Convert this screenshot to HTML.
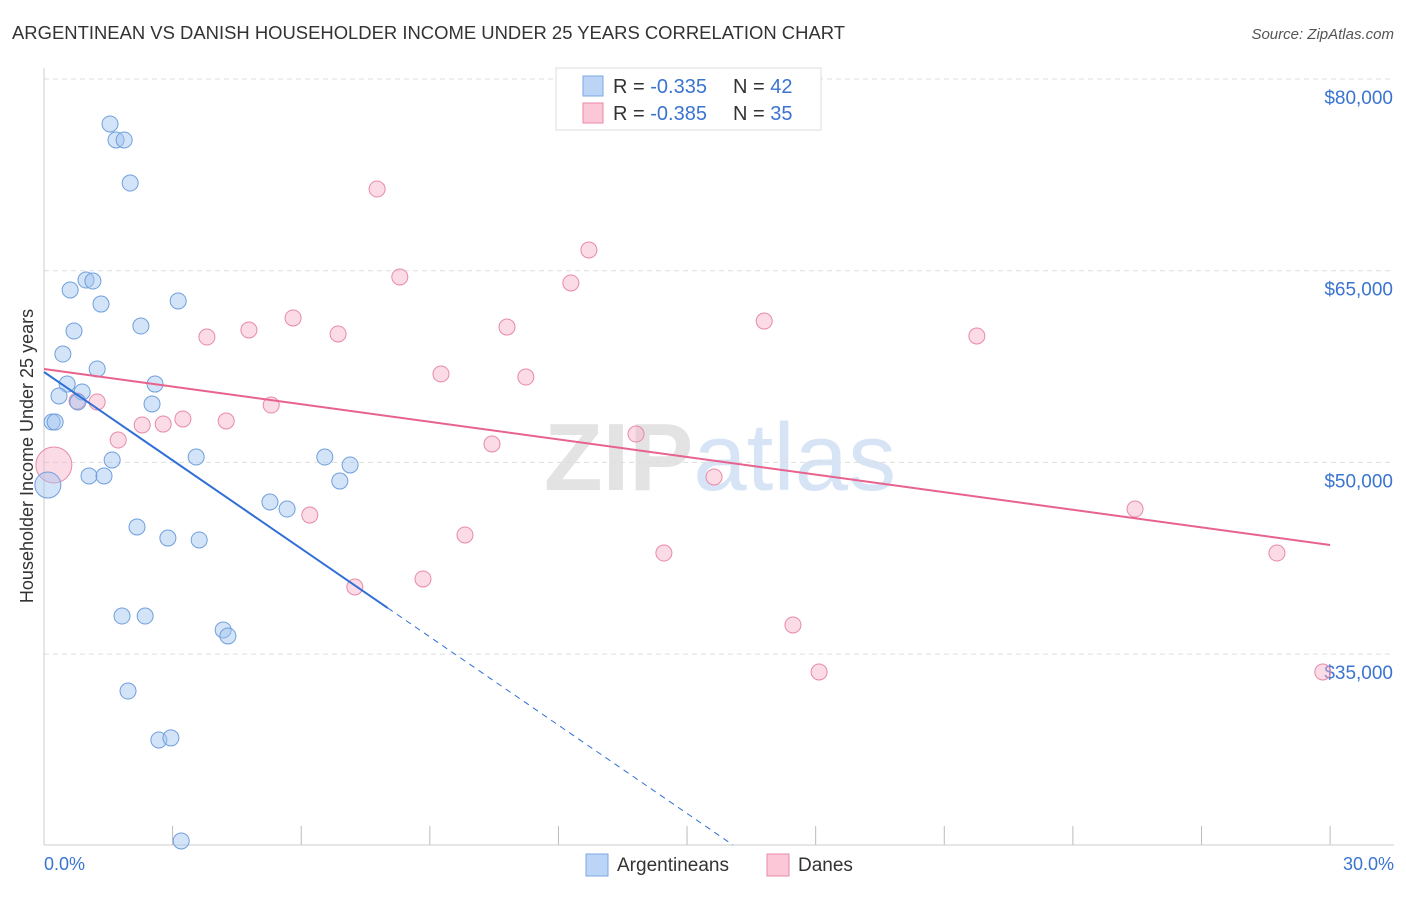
<!DOCTYPE html>
<html><head><meta charset="utf-8"><style>
body{margin:0;background:#fff;font-family:"Liberation Sans",sans-serif;}
svg text{font-family:"Liberation Sans",sans-serif;}
</style></head><body>
<svg id="chart" width="1406" height="892" xmlns="http://www.w3.org/2000/svg">
<text x="12" y="39" font-size="18" fill="#333" textLength="833" lengthAdjust="spacingAndGlyphs">ARGENTINEAN VS DANISH HOUSEHOLDER INCOME UNDER 25 YEARS CORRELATION CHART</text>
<text x="1394" y="39" font-size="15" fill="#555" text-anchor="end" font-style="italic">Source: ZipAtlas.com</text>
<text x="720" y="490" font-size="96" fill="#e3e3e3" text-anchor="middle" font-weight="bold">ZIP<tspan fill="#d6e4f5" font-weight="normal">atlas</tspan></text>
<g id="grid"></g>
<line x1="44" y1="68" x2="44" y2="845" stroke="#ccc"/>
<line x1="44" y1="845" x2="1394" y2="845" stroke="#ccc"/>
<text transform="translate(33,456) rotate(-90)" font-size="18" fill="#333" text-anchor="middle">Householder Income Under 25 years</text>
<text x="44" y="870" font-size="18" fill="#3a74d0">0.0%</text>
<text x="1394" y="870" font-size="18" fill="#3a74d0" text-anchor="end">30.0%</text>
<g id="points"></g>
<g id="lines"></g>
<g>
<rect x="556" y="68" width="265" height="62" fill="#fff" stroke="#ddd"/>
<rect x="583" y="76" width="20" height="20" fill="#bcd5f7" stroke="#7aa8e0"/>
<text x="613" y="93" font-size="20" fill="#333">R = <tspan fill="#3a74d0">-0.335</tspan></text>
<text x="733" y="93" font-size="20" fill="#333">N = <tspan fill="#3a74d0">42</tspan></text>
<rect x="583" y="103" width="20" height="20" fill="#fcc8d8" stroke="#e88aa8"/>
<text x="613" y="120" font-size="20" fill="#333">R = <tspan fill="#3a74d0">-0.385</tspan></text>
<text x="733" y="120" font-size="20" fill="#333">N = <tspan fill="#3a74d0">35</tspan></text>
</g>
<g>
<rect x="586" y="854" width="22" height="22" fill="#bcd5f7" stroke="#7aa8e0"/>
<text x="617" y="871" font-size="19" fill="#333">Argentineans</text>
<rect x="767" y="854" width="22" height="22" fill="#fcc8d8" stroke="#e88aa8"/>
<text x="798" y="871" font-size="19" fill="#333">Danes</text>
</g>
</svg>
<script>
const yTicks=[35000,50000,65000,80000];
const yTickLabels=["$35,000","$50,000","$65,000","$80,000"];
const xTicks=[0,3,6,9,12,15,18,21,24,27,30];
const argX=[1.54,1.68,1.87,2.01,0.98,1.14,0.61,1.33,3.13,2.26,0.70,0.44,1.24,0.54,2.59,0.89,0.35,0.79,2.52,0.19,0.26,0.09,1.59,1.05,1.40,3.55,6.55,7.14,6.90,5.27,5.67,2.17,2.89,3.62,1.82,2.36,4.18,4.29,1.96,2.68,2.96,3.20];
const argY=[76.48,75.23,75.23,71.86,64.27,64.19,63.49,62.39,62.63,60.67,60.28,58.48,57.31,56.13,56.13,55.51,55.20,54.73,54.57,53.16,53.16,48.23,50.19,48.94,48.94,50.42,50.42,49.80,48.54,46.90,46.35,44.95,44.08,43.93,37.98,37.98,36.89,36.42,32.11,28.28,28.44,20.38];
const danX=[7.77,12.71,8.30,12.29,5.81,4.78,16.80,10.80,6.86,3.80,21.76,9.26,11.24,0.77,1.24,5.30,3.24,4.25,2.29,2.78,1.73,13.81,10.45,0.23,15.63,25.45,6.20,9.82,14.46,28.76,7.25,8.84,17.47,18.08,29.83];
const danY=[71.39,66.62,64.51,64.04,61.30,60.36,61.06,60.59,60.05,59.81,59.89,56.92,56.68,54.80,54.73,54.49,53.40,53.24,52.93,53.00,51.75,52.22,51.44,49.80,48.86,46.35,45.88,44.32,42.91,42.91,40.25,40.88,37.28,33.60,33.60];
const argBig=[21];const danBig=[23];
const argTrend=[57.074,-2.303];const argSolidEnd=8.02;
const danTrend=[57.31,-0.459];
const NS="http://www.w3.org/2000/svg";
const xs=v=>44+v*42.87;
const ys=v=>79+(80-v)*12.78;
function mk(t,a,p){const e=document.createElementNS(NS,t);for(const k in a)e.setAttribute(k,a[k]);p.appendChild(e);return e;}
const grid=document.getElementById('grid');
yTicks.forEach((t,i)=>{const y=ys(t/1000);
const l=mk('line',{x1:44,x2:1394,y1:y,y2:y,stroke:'#ddd','stroke-dasharray':'5,4'},grid);


const tx=mk('text',{x:1393,y:y+25,'font-size':19,fill:'#3a74d0','text-anchor':'end'},grid);tx.textContent=yTickLabels[i];

});
xTicks.forEach(t=>{const x=xs(t);const l=mk('line',{x1:x,x2:x,y1:826,y2:845,stroke:'#bbb'},grid);

});
const pts=document.getElementById('points');
danX.forEach((v,i)=>{const c=mk('circle',{cx:xs(v),cy:ys(danY[i]),r:danBig.includes(i)?18:8,fill:'rgba(247,176,200,0.45)',stroke:'#e88aa8','stroke-width':1},pts);

});
argX.forEach((v,i)=>{const c=mk('circle',{cx:xs(v),cy:ys(argY[i]),r:argBig.includes(i)?13:8,fill:'rgba(160,196,240,0.45)',stroke:'#6f9fdc','stroke-width':1},pts);

});
const ln=document.getElementById('lines');
const af=x=>argTrend[0]+argTrend[1]*x;
let l1=mk('line',{x1:xs(0),y1:ys(af(0)),x2:xs(argSolidEnd),y2:ys(af(argSolidEnd)),stroke:'#2f6fd6','stroke-width':2},ln);


const xEnd=(argTrend[0]-20.06)/-argTrend[1];
let l2=mk('line',{x1:xs(argSolidEnd),y1:ys(af(argSolidEnd)),x2:xs(xEnd),y2:ys(af(xEnd)),stroke:'#2f6fd6','stroke-width':1,'stroke-dasharray':'6,5'},ln);


const df=x=>danTrend[0]+danTrend[1]*x;
let l3=mk('line',{x1:xs(0),y1:ys(df(0)),x2:xs(30),y2:ys(df(30)),stroke:'#e8628e','stroke-width':2},ln);


</script>
</body></html>
